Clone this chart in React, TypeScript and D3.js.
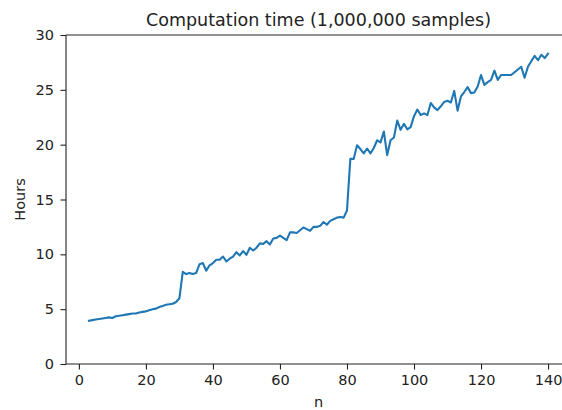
import React, { useRef, useEffect } from 'react';
import * as d3 from 'd3';

// n values 3..140 and measured hours
const nValues: number[] = d3.range(3, 141);
const hours: number[] = [
  3.95, 4.0, 4.05, 4.1, 4.15, 4.2, 4.25, 4.2, 4.35, 4.4,
  4.45, 4.5, 4.55, 4.6, 4.6, 4.7, 4.75, 4.8, 4.9, 5.0,
  5.05, 5.2, 5.3, 5.4, 5.45, 5.5, 5.65, 6.0, 8.4, 8.2,
  8.3, 8.2, 8.3, 9.1, 9.2, 8.5, 9.0, 9.2, 9.5, 9.5,
  9.8, 9.35, 9.6, 9.8, 10.2, 9.9, 10.3, 9.95, 10.6, 10.35,
  10.6, 11.0, 10.95, 11.2, 10.9, 11.45, 11.5, 11.7, 11.5, 11.3,
  12.0, 12.0, 11.95, 12.2, 12.45, 12.3, 12.15, 12.5, 12.5, 12.6,
  12.95, 12.7, 13.05, 13.2, 13.35, 13.4, 13.35, 14.0, 18.7, 18.7,
  19.95, 19.6, 19.2, 19.65, 19.2, 19.7, 20.4, 20.2, 21.2, 19.05,
  20.4, 20.65, 22.2, 21.35, 21.9, 21.4, 21.6, 22.6, 23.2, 22.7,
  22.85, 22.7, 23.8, 23.4, 23.15, 23.5, 23.9, 24.0, 23.85, 24.9,
  23.1, 24.4, 24.8, 25.25, 24.7, 24.75, 25.3, 26.35, 25.45, 25.7,
  25.9, 26.75, 25.9, 26.35, 26.35, 26.35, 26.35, 26.6, 26.85, 27.1,
  26.1, 27.1, 27.6, 28.1, 27.7, 28.2, 27.9, 28.3,
];
const xTicks: number[] = [0, 20, 40, 60, 80, 100, 120, 140];
const yTicks: number[] = [0, 5, 10, 15, 20, 25, 30];

const width = 562;
const height = 410;
const margin = { left: 66, top: 35, right: 571, bottom: 364 };
const font = 'DejaVu Sans, sans-serif';
const ink = '#222';

const App = () => {
  const svgRef = useRef<SVGSVGElement>(null);

  useEffect(() => {
    const svg = d3.select(svgRef.current);
    svg.selectAll('*').remove();

    const xScale = d3.scaleLinear().domain([-3.85, 146.85]).range([margin.left, margin.right]);
    const yScale = d3.scaleLinear().domain([0, 30]).range([margin.bottom, margin.top]);

    const data = nValues.map((n, i) => ({ n, h: hours[i] }));

    const line = d3
      .line<{ n: number; h: number }>()
      .x((d) => xScale(d.n))
      .y((d) => yScale(d.h));

    svg
      .append('path')
      .datum(data)
      .attr('fill', 'none')
      .attr('stroke', '#1f77b4')
      .attr('stroke-width', 2.1)
      .attr('stroke-linejoin', 'round')
      .attr('stroke-linecap', 'square')
      .attr('d', line);

    // spines (left, bottom, top; right one falls off the picture)
    const spine = svg.append('g').attr('stroke', ink).attr('stroke-width', 1.1);
    spine.append('line').attr('x1', margin.left).attr('x2', margin.left).attr('y1', margin.top).attr('y2', margin.bottom);
    spine.append('line').attr('x1', margin.left).attr('x2', margin.right).attr('y1', margin.bottom).attr('y2', margin.bottom);
    spine.append('line').attr('x1', margin.left).attr('x2', margin.right).attr('y1', margin.top).attr('y2', margin.top);

    const xAxis = d3.axisBottom(xScale).tickValues(xTicks).tickSize(5.5).tickPadding(5.5).tickFormat((d) => `${d}`);
    const xg = svg.append('g').attr('transform', `translate(0,${margin.bottom})`).call(xAxis);
    xg.select('.domain').remove();
    xg.selectAll('line').attr('stroke', ink).attr('stroke-width', 1.1);
    xg.selectAll('text').attr('fill', ink).attr('font-size', 14.5).attr('font-family', font);

    const yAxis = d3.axisLeft(yScale).tickValues(yTicks).tickSize(5.5).tickPadding(6.5).tickFormat((d) => `${d}`);
    const yg = svg.append('g').attr('transform', `translate(${margin.left},0)`).call(yAxis);
    yg.select('.domain').remove();
    yg.selectAll('line').attr('stroke', ink).attr('stroke-width', 1.1);
    yg.selectAll('text').attr('fill', ink).attr('font-size', 14.5).attr('font-family', font);

    svg
      .append('text')
      .attr('x', (margin.left + margin.right) / 2)
      .attr('y', 26)
      .attr('text-anchor', 'middle')
      .attr('font-family', font)
      .attr('font-size', 17.5)
      .attr('fill', ink)
      .text('Computation time (1,000,000 samples)');

    svg
      .append('text')
      .attr('x', (margin.left + margin.right) / 2)
      .attr('y', 407)
      .attr('text-anchor', 'middle')
      .attr('font-family', font)
      .attr('font-size', 14.5)
      .attr('fill', ink)
      .text('n');

    svg
      .append('text')
      .attr('transform', `translate(25,${(margin.top + margin.bottom) / 2}) rotate(-90)`)
      .attr('text-anchor', 'middle')
      .attr('font-family', font)
      .attr('font-size', 14.5)
      .attr('fill', ink)
      .text('Hours');
  }, []);

  return (
    <svg
      ref={svgRef}
      width={width}
      height={height}
      style={{ position: 'absolute', left: 0, top: 0, background: '#fff' }}
    />
  );
};

export default App;
